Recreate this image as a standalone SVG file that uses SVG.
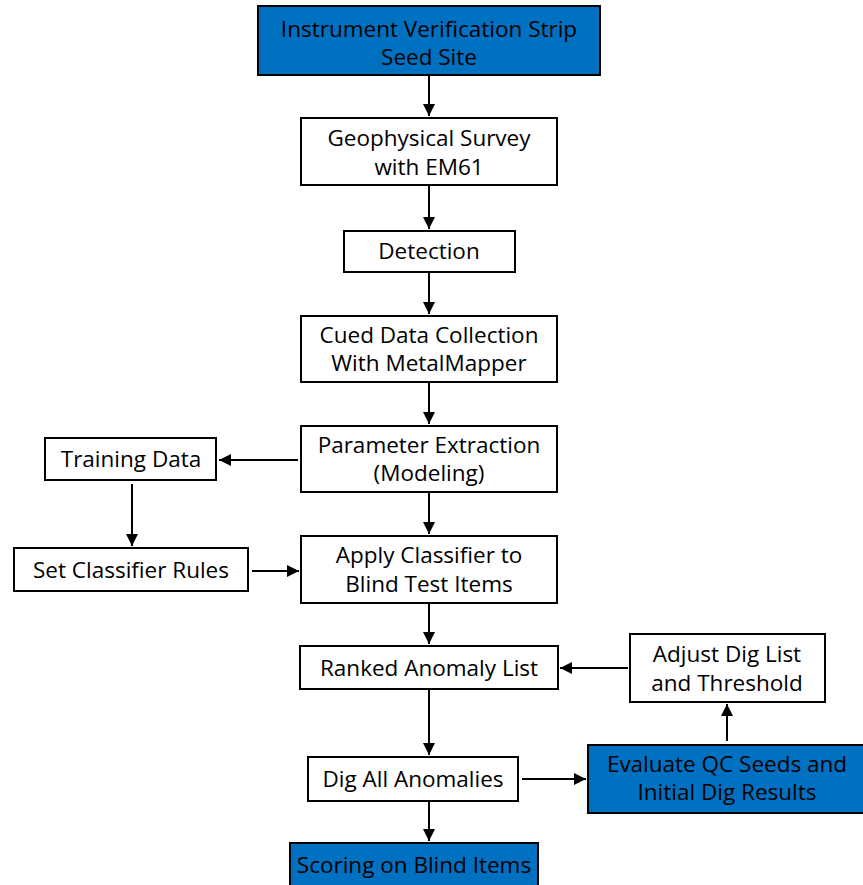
<svg xmlns="http://www.w3.org/2000/svg" width="863" height="885" viewBox="0 0 863 885">
<style>
.b{fill:#fff;stroke:#000;stroke-width:2}
.k{fill:#0070c0;stroke:#000;stroke-width:2}
text{font-family:"Open Sans","Liberation Sans",sans-serif;font-size:22.5px;fill:#000;text-anchor:middle}
.c line{stroke:#000;stroke-width:2}
</style>
<defs>
<marker id="a" viewBox="0 0 12 12" refX="12" refY="6" markerWidth="12" markerHeight="12" orient="auto" markerUnits="userSpaceOnUse" style="overflow:visible">
<path d="M0,0L12,6L0,12Z" fill="#000"/>
</marker>
</defs>
<rect width="863" height="885" fill="#fff"/>
<g class="c">
<line x1="429" y1="76" x2="429" y2="116" marker-end="url(#a)"/>
<line x1="429" y1="186" x2="429" y2="229" marker-end="url(#a)"/>
<line x1="429" y1="273" x2="429" y2="314" marker-end="url(#a)"/>
<line x1="429" y1="383" x2="429" y2="424" marker-end="url(#a)"/>
<line x1="429" y1="493" x2="429" y2="534" marker-end="url(#a)"/>
<line x1="429" y1="604" x2="429" y2="644" marker-end="url(#a)"/>
<line x1="429" y1="690" x2="429" y2="755" marker-end="url(#a)"/>
<line x1="429" y1="802" x2="429" y2="841" marker-end="url(#a)"/>
<line x1="298" y1="460" x2="219" y2="460" marker-end="url(#a)"/>
<line x1="132" y1="484" x2="132" y2="546" marker-end="url(#a)"/>
<line x1="252" y1="571" x2="299" y2="571" marker-end="url(#a)"/>
<line x1="628" y1="668" x2="560" y2="668" marker-end="url(#a)"/>
<line x1="522" y1="779" x2="586" y2="779" marker-end="url(#a)"/>
<line x1="727" y1="741" x2="727" y2="704" marker-end="url(#a)"/>
</g>
<g id="n1"><rect class="k" x="258" y="6" width="342" height="69"/><text x="429" y="37">Instrument Verification Strip</text><text x="429" y="65">Seed Site</text></g>
<g id="n2"><rect class="b" x="301" y="118" width="256" height="67"/><text x="429" y="146">Geophysical Survey</text><text x="429" y="175">with EM61</text></g>
<g id="n3"><rect class="b" x="344" y="231" width="171" height="41"/><text x="429" y="259">Detection</text></g>
<g id="n4"><rect class="b" x="301" y="316" width="256" height="66"/><text x="429" y="343">Cued Data Collection</text><text x="429" y="371">With MetalMapper</text></g>
<g id="n5"><rect class="b" x="301" y="426" width="256" height="66"/><text x="429" y="453">Parameter Extraction</text><text x="429" y="481">(Modeling)</text></g>
<g id="n6"><rect class="b" x="45" y="438" width="171" height="42"/><text x="131" y="467">Training Data</text></g>
<g id="n7"><rect class="b" x="14" y="548" width="234" height="43"/><text x="131" y="578">Set Classifier Rules</text></g>
<g id="n8"><rect class="b" x="301" y="536" width="256" height="67"/><text x="429" y="563">Apply Classifier to</text><text x="429" y="592">Blind Test Items</text></g>
<g id="n9"><rect class="b" x="300" y="646" width="258" height="43"/><text x="429" y="676">Ranked Anomaly List</text></g>
<g id="n10"><rect class="b" x="630" y="634" width="195" height="68"/><text x="727" y="662">Adjust Dig List</text><text x="727" y="691">and Threshold</text></g>
<g id="n11"><rect class="b" x="308" y="757" width="210" height="44"/><text x="413" y="787">Dig All Anomalies</text></g>
<g id="n12"><rect class="k" x="588" y="745" width="280" height="68"/><text x="727" y="772">Evaluate QC Seeds and</text><text x="727" y="800">Initial Dig Results</text></g>
<g id="n13"><rect class="k" x="290" y="843" width="248" height="48"/><text x="414" y="873">Scoring on Blind Items</text></g>
</svg>
